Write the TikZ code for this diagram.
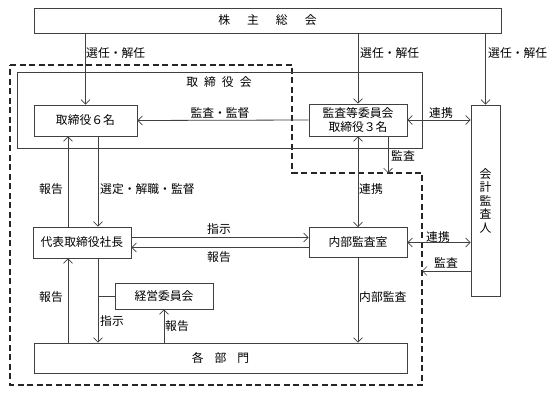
\documentclass[tikz,border=0pt]{standalone}
\usepackage{fontspec}
\setmainfont{Noto Sans CJK JP}
\usetikzlibrary{arrows.meta,calc}
\begin{document}
\begin{tikzpicture}[x=1pt,y=-1pt,
  every node/.style={font=\fontsize{11.8}{13.5}\selectfont, text=black, inner sep=0pt},
  box/.style={draw=black!75, line width=0.8pt, rectangle},
  conn/.style={draw=black!75, line width=0.8pt},
  tipv/.tip={Straight Barb[length=4.5pt,width=9pt,line width=0.7pt]},
  arr/.style={conn, -tipv},
  darr/.style={conn, tipv-tipv},
  dashline/.style={draw=black!85, line width=1.5pt, dash pattern=on 6pt off 3.5pt}]
\useasboundingbox (0,0) rectangle (547,406);
\fill[white] (0,0) rectangle (547,406);

% dashed boundary
\draw[dashline] (10,65) -- (292,65) -- (292,173) -- (422,173) -- (422,385) -- (10,385) -- cycle;

% nodes
\node[box, minimum width=467pt, minimum height=25pt] (sh) at (267.5,20.5) {株\hspace{17pt}主\hspace{17pt}総\hspace{17pt}会};
\node[box, minimum width=405pt, minimum height=76pt] (board) at (219.5,110) {};
\node (boardt) at (219,82) {取\hspace{6pt}締\hspace{6pt}役\hspace{6pt}会};
\node[box, minimum width=103pt, minimum height=31pt] (d6) at (85.5,120.5) {取締役６名};
\node[box, minimum width=98pt, minimum height=32pt, align=center] (ac) at (358,120) {監査等委員会\\取締役３名};
\node[box, minimum width=29pt, minimum height=191pt, align=center, font=\fontsize{11.8}{13.5}\selectfont] (ca) at (485.5,200.5) {会\\計\\監\\査\\人};
\node[box, minimum width=98pt, minimum height=31pt] (pres) at (82,242.5) {代表取締役社長};
\node[box, minimum width=98pt, minimum height=30pt] (ia) at (358,242.5) {内部監査室};
\node[box, minimum width=98pt, minimum height=26pt] (mc) at (164,296) {経営委員会};
\node[box, minimum width=373pt, minimum height=30pt] (dept) at (220.5,358) {各\hspace{11pt}部\hspace{11pt}門};

\coordinate (lx) at (68,0);
\coordinate (px) at (98,0);
\coordinate (acend) at (388,173);
\coordinate (caend) at (422,271);

% connectors
\draw[arr] (d6.north |- sh.south) -- (d6.north);
\draw[arr] (ac.north |- sh.south) -- (ac.north);
\draw[arr] (ca.north |- sh.south) -- (ca.north);
\draw[arr] (ac.west) -- (d6.east);
\draw[darr] (ac.east) -- (ca.west |- ac.east);
\draw[arr] (acend |- ac.south) -- (acend);
\draw[darr] (ac.south) -- (ia.north);
\draw[darr] (ia.east) -- (ca.west |- ia.east);
\draw[arr] (caend -| ca.west) -- (caend);
\draw[arr] (lx |- pres.north) -- (lx |- d6.south);
\draw[arr] (px |- d6.south) -- (px |- pres.north);
\draw[arr] ($(pres.east)+(0,-5)$) -- ($(ia.west)+(0,-5)$);
\draw[arr] ($(ia.west)+(0,5)$) -- ($(pres.east)+(0,5)$);
\draw[arr] (ia.south) -- (ia.south |- dept.north);
\draw[arr] (lx |- dept.north) -- (lx |- pres.south);
\draw[arr] (px |- pres.south) -- (px |- dept.north);
\draw[conn] (px |- mc.west) -- (mc.west);
\draw[arr] (mc.south |- dept.north) -- (mc.south);

% labels
\node[anchor=west] at (86,53) {選任・解任};
\node[anchor=west] at (360,53) {選任・解任};
\node[anchor=west] at (488,53) {選任・解任};
\node at (220,113) {監査・監督};
\node at (441,113) {連携};
\node at (51,189) {報告};
\node[anchor=west] at (100,189) {選定・解職・監督};
\node[anchor=west] at (391,156) {監査};
\node[anchor=west] at (359,189) {連携};
\node at (219,229) {指示};
\node at (219,257) {報告};
\node at (438,237) {連携};
\node at (446,263) {監査};
\node at (51,297) {報告};
\node[anchor=west] at (100,321) {指示};
\node[anchor=west] at (165,326) {報告};
\node[anchor=west] at (359,297) {内部監査};
\end{tikzpicture}
\end{document}
